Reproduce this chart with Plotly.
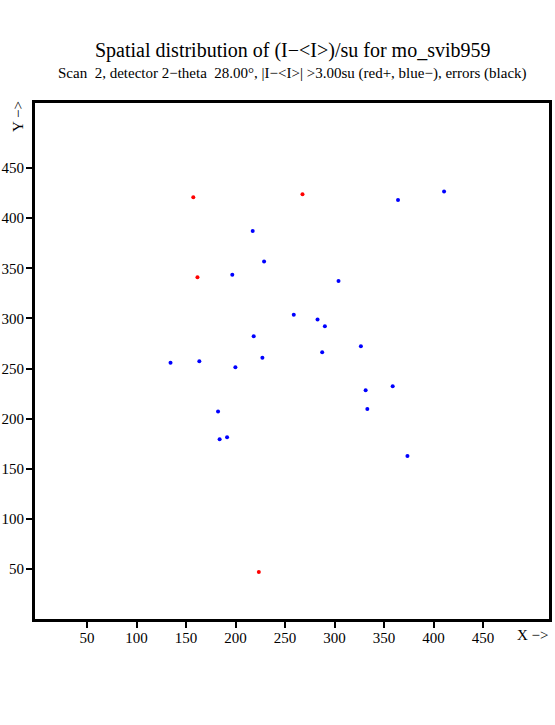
import plotly.graph_objects as go

# Positive deviations (red)
red_x = [157.3, 267.6, 161.5, 223.5]
red_y = [421, 424, 341, 47]

# Negative deviations (blue)
blue_x = [217.3, 228.8, 196.7, 258.8, 282.8, 218.3, 227.1, 134.3, 163.4, 199.8,
          410.6, 364.1, 304.0, 290.2, 326.6, 287.5, 358.7, 331.4, 333.1, 373.6,
          182.3, 183.9, 191.4]
blue_y = [387.3, 356.7, 343.7, 303.7, 299.0, 282.3, 260.7, 255.7, 257.3, 251.3,
          426.7, 418.3, 337.3, 292.3, 272.3, 266.3, 232.3, 228.3, 209.7, 162.7,
          207.0, 179.3, 181.3]

tick_vals = [50, 100, 150, 200, 250, 300, 350, 400, 450]
tick_text = [str(v) for v in tick_vals]

FONT = "Liberation Serif"
W, H = 555, 725
L, R, T, B = 35, 6, 103, 106

fig = go.Figure()
fig.add_trace(go.Scatter(x=blue_x, y=blue_y, mode="markers",
                         marker=dict(color="#0000ff", size=4, line=dict(width=0)),
                         showlegend=False, hoverinfo="skip"))
fig.add_trace(go.Scatter(x=red_x, y=red_y, mode="markers",
                         marker=dict(color="#ff0000", size=4, line=dict(width=0)),
                         showlegend=False, hoverinfo="skip"))

axis_common = dict(showline=True, linecolor="black", linewidth=3, mirror=True,
                   ticks="outside", ticklen=6, tickwidth=2, tickcolor="black",
                   showgrid=False, zeroline=False,
                   tickfont=dict(family=FONT, size=15, color="black"))

fig.update_layout(
    width=W, height=H,
    margin=dict(l=L, r=R, t=T, b=B, autoexpand=False),
    paper_bgcolor="white", plot_bgcolor="white",
    xaxis=dict(range=[-2.6, 516.6], tickvals=tick_vals, ticktext=tick_text,
               ticklabelstandoff=-3, **axis_common),
    yaxis=dict(range=[0, 515], tickvals=tick_vals, ticktext=tick_text,
               ticklabelstandoff=-1, **axis_common),
)

plot_h = H - T - B
plot_w = W - L - R
def py(pix):
    return (H - B - pix) / plot_h

def px(pix):
    return (pix - L) / plot_w

fig.add_annotation(text="Spatial distribution of (I\u2212&lt;I&gt;)/su for mo_svib959",
                   xref="paper", yref="paper", x=px(292.5), y=py(50), showarrow=False,
                   font=dict(family=FONT, size=20, color="black"),
                   xanchor="center", yanchor="middle")
fig.add_annotation(text="Scan&nbsp; 2, detector 2\u2212theta&nbsp; 28.00°, |I\u2212&lt;I&gt;| &gt;3.00su (red+, blue\u2212), errors (black)",
                   xref="paper", yref="paper", x=px(292.5), y=py(74), showarrow=False,
                   font=dict(family=FONT, size=15, color="black"),
                   xanchor="center", yanchor="middle")
fig.add_annotation(text="Y \u2212&gt;", textangle=-90,
                   xref="paper", yref="paper", x=px(18), y=py(117), showarrow=False,
                   font=dict(family=FONT, size=15, color="black"),
                   xanchor="center", yanchor="middle")
fig.add_annotation(text="X \u2212&gt;",
                   xref="paper", yref="paper", x=px(533), y=py(635), showarrow=False,
                   font=dict(family=FONT, size=15, color="black"),
                   xanchor="center", yanchor="middle")

fig.write_html("out.html", config={"displayModeBar": False},
               post_script="document.body.style.margin='0';")
